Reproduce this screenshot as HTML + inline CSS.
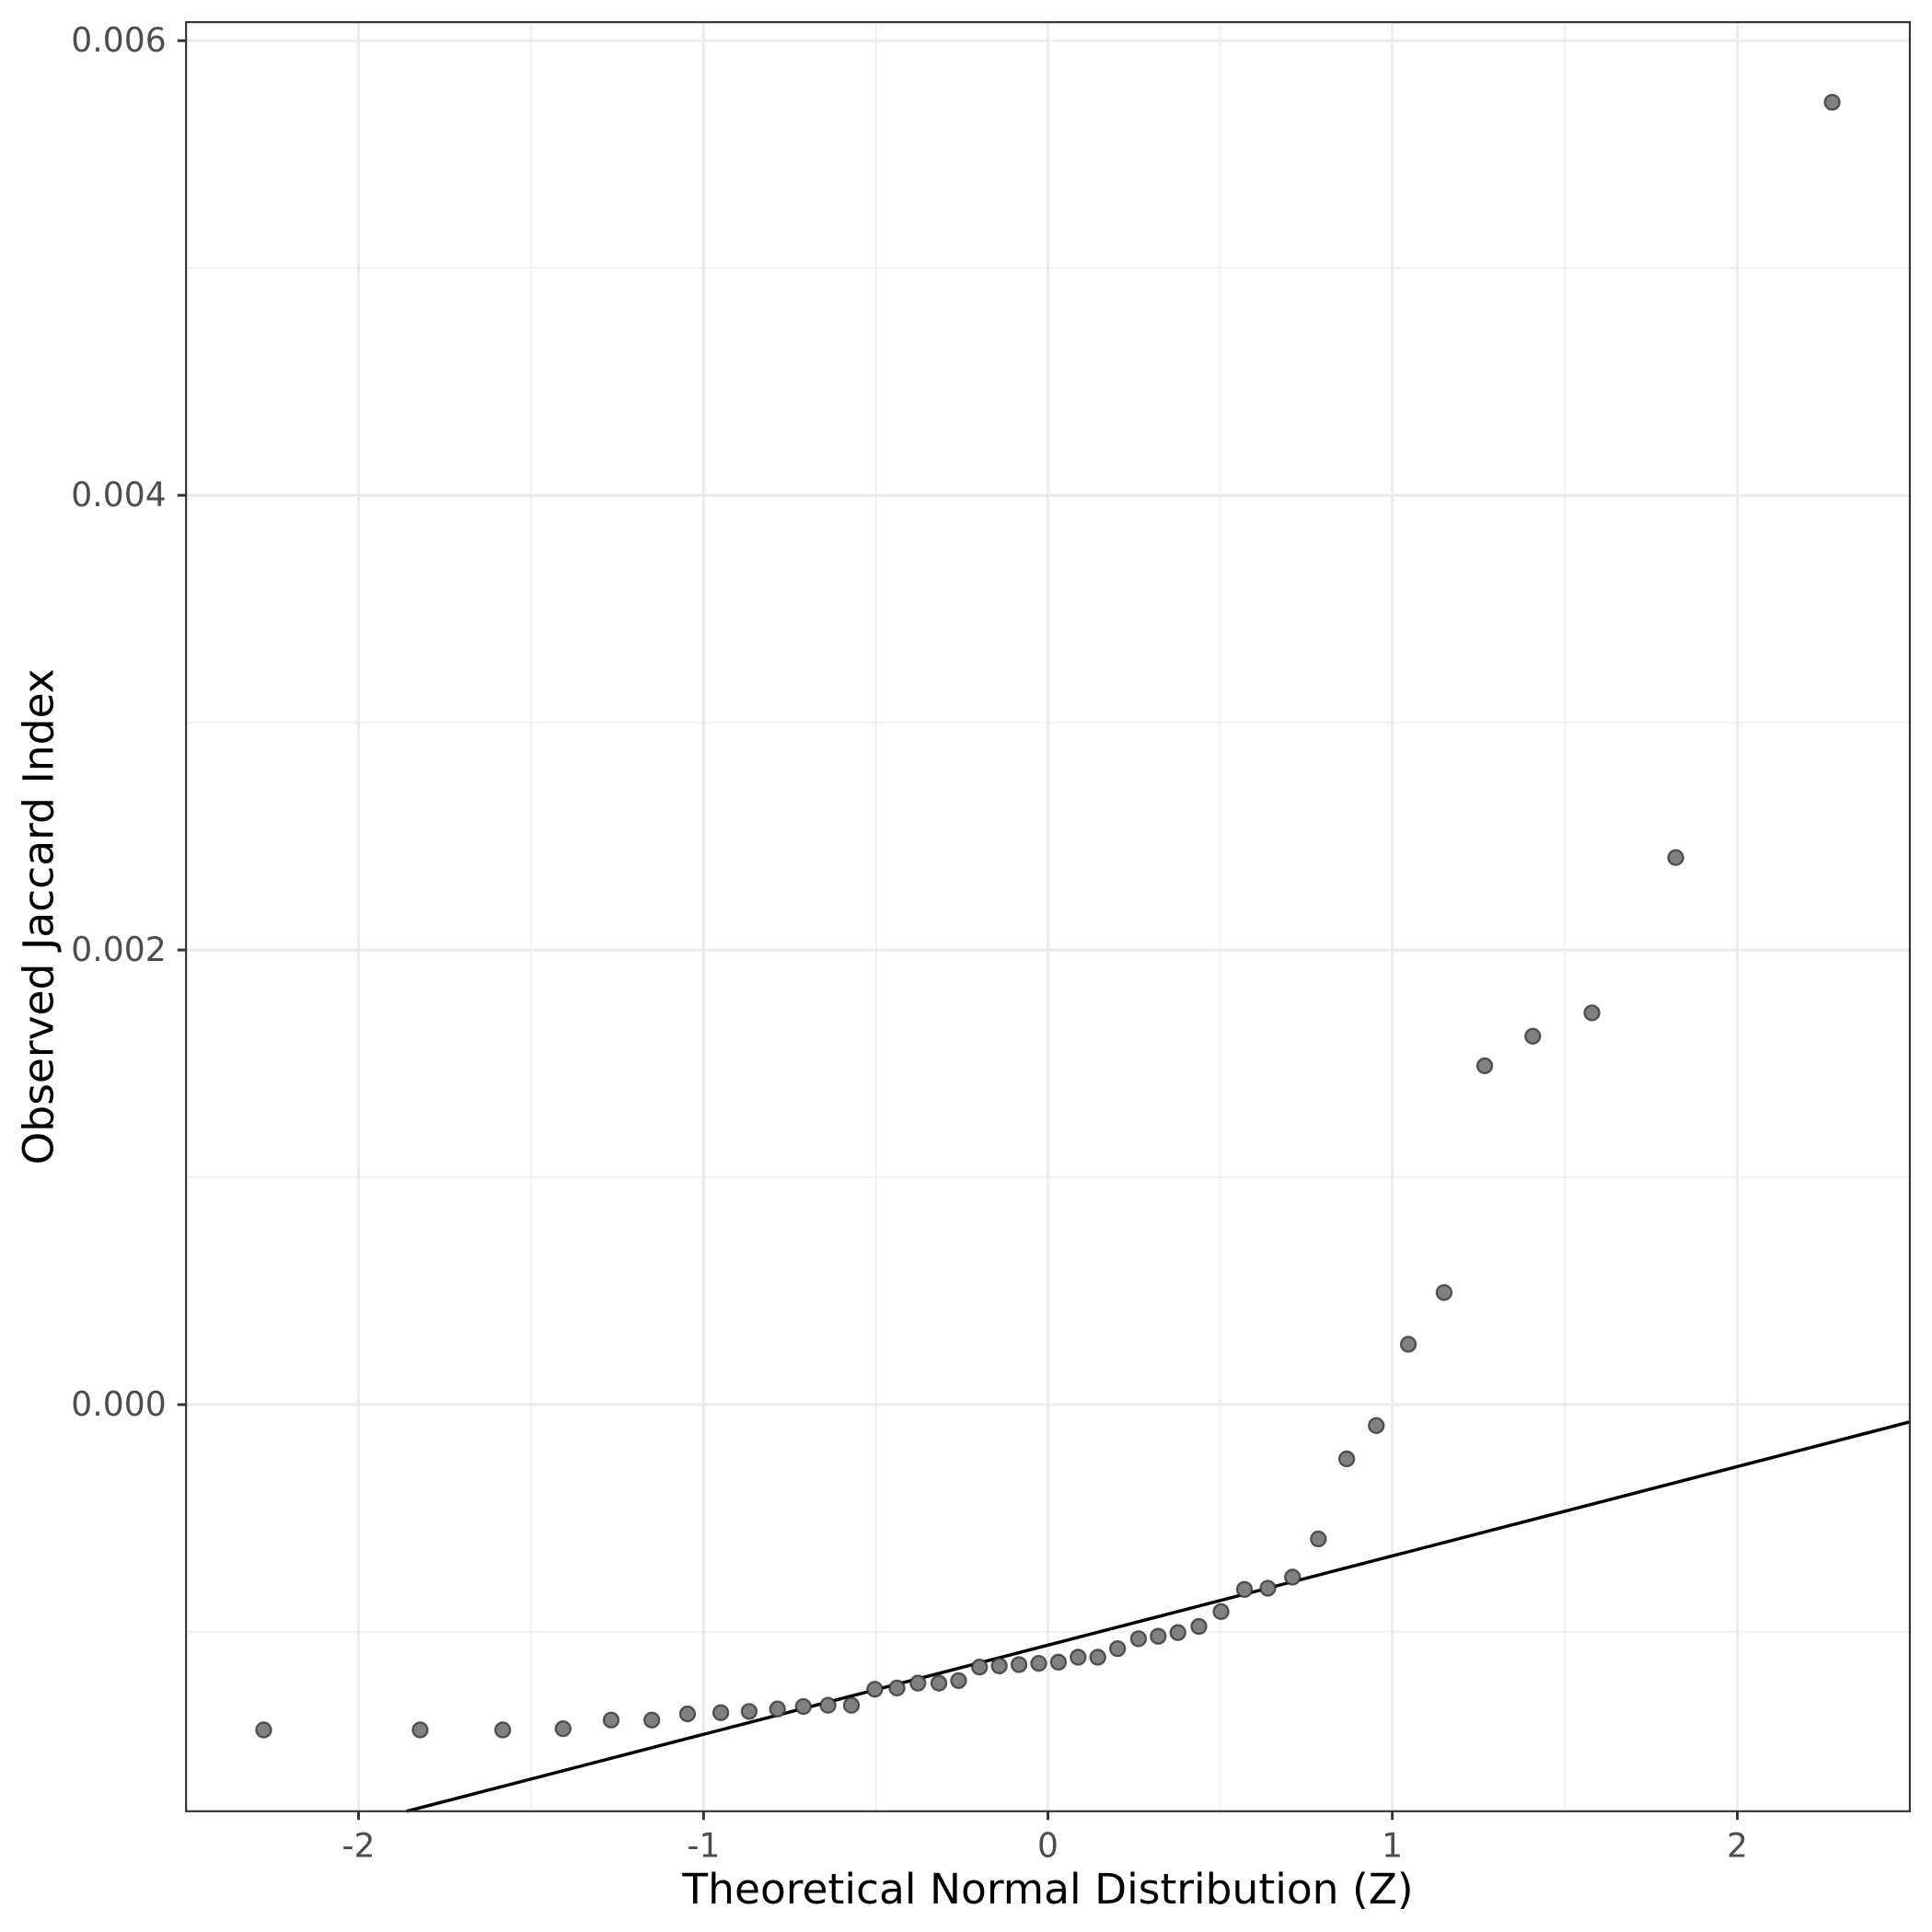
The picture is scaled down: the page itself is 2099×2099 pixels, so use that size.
<!DOCTYPE html>
<html><head><meta charset="utf-8"><style>html,body{margin:0;padding:0;background:#fff}svg{display:block}</style></head>
<body>
<svg width="2099" height="2099" viewBox="0 0 1568 1568" xmlns="http://www.w3.org/2000/svg" font-family="DejaVu Sans, Liberation Sans, sans-serif">
<rect width="1568" height="1568" fill="#fff"/>
<g stroke="#ebebeb" stroke-width="1">
<line x1="151" x2="1550" y1="217.5" y2="217.5"/><line x1="151" x2="1550" y1="586.5" y2="586.5"/><line x1="151" x2="1550" y1="955.5" y2="955.5"/><line x1="151" x2="1550" y1="1324.5" y2="1324.5"/>
<line y1="18" y2="1470" x1="431" x2="431"/><line y1="18" y2="1470" x1="711" x2="711"/><line y1="18" y2="1470" x1="990" x2="990"/><line y1="18" y2="1470" x1="1270" x2="1270"/>
</g>
<g stroke="#ebebeb" stroke-width="2.2">
<line x1="151" x2="1550" y1="33" y2="33"/><line x1="151" x2="1550" y1="402" y2="402"/><line x1="151" x2="1550" y1="771" y2="771"/><line x1="151" x2="1550" y1="1140" y2="1140"/>
<line y1="18" y2="1470" x1="291" x2="291"/><line y1="18" y2="1470" x1="571" x2="571"/><line y1="18" y2="1470" x1="850.5" x2="850.5"/><line y1="18" y2="1470" x1="1130" x2="1130"/><line y1="18" y2="1470" x1="1410" x2="1410"/>
</g>
<line x1="330" y1="1470" x2="1550" y2="1154" stroke="#000" stroke-width="2.6"/>
<g fill="#808080" stroke="#333" stroke-opacity="0.8" stroke-width="1.7">
<circle cx="214" cy="1404" r="6"/><circle cx="341" cy="1404" r="6"/><circle cx="408" cy="1404" r="6"/><circle cx="457" cy="1403" r="6"/><circle cx="496" cy="1396" r="6"/><circle cx="529" cy="1396" r="6"/><circle cx="558" cy="1391" r="6"/><circle cx="585" cy="1390" r="6"/><circle cx="608" cy="1389" r="6"/><circle cx="631" cy="1387" r="6"/><circle cx="652" cy="1385" r="6"/><circle cx="672" cy="1384" r="6"/><circle cx="691" cy="1384" r="6"/><circle cx="710" cy="1371" r="6"/><circle cx="728" cy="1370" r="6"/><circle cx="745" cy="1366" r="6"/><circle cx="762" cy="1366" r="6"/><circle cx="778" cy="1364" r="6"/><circle cx="795" cy="1353" r="6"/><circle cx="811" cy="1352" r="6"/><circle cx="827" cy="1351" r="6"/><circle cx="843" cy="1350" r="6"/><circle cx="859" cy="1349" r="6"/><circle cx="875" cy="1345" r="6"/><circle cx="891" cy="1345" r="6"/><circle cx="907" cy="1338" r="6"/><circle cx="924" cy="1330" r="6"/><circle cx="940" cy="1328" r="6"/><circle cx="956" cy="1325" r="6"/><circle cx="973" cy="1320" r="6"/><circle cx="991" cy="1308" r="6"/><circle cx="1010" cy="1290" r="6"/><circle cx="1029" cy="1289" r="6"/><circle cx="1049" cy="1280" r="6"/><circle cx="1070" cy="1249" r="6"/><circle cx="1093" cy="1184" r="6"/><circle cx="1117" cy="1157" r="6"/><circle cx="1143" cy="1091" r="6"/><circle cx="1172" cy="1049" r="6"/><circle cx="1205" cy="865" r="6"/><circle cx="1244" cy="841" r="6"/><circle cx="1292" cy="822" r="6"/><circle cx="1360" cy="696" r="6"/><circle cx="1487" cy="83" r="6"/>
</g>
<rect x="151" y="18" width="1399" height="1452" fill="none" stroke="#333" stroke-width="1.6"/>
<g stroke="#333" stroke-width="2.2">
<line x1="144" x2="151" y1="33" y2="33"/><line x1="144" x2="151" y1="402" y2="402"/><line x1="144" x2="151" y1="771" y2="771"/><line x1="144" x2="151" y1="1140" y2="1140"/>
<line y1="1470" y2="1477" x1="291" x2="291"/><line y1="1470" y2="1477" x1="571" x2="571"/><line y1="1470" y2="1477" x1="850.5" x2="850.5"/><line y1="1470" y2="1477" x1="1130" x2="1130"/><line y1="1470" y2="1477" x1="1410" x2="1410"/>
</g>
<g fill="#4d4d4d" font-size="27" text-anchor="end">
<text x="135" y="42">0.006</text><text x="135" y="411">0.004</text><text x="135" y="780">0.002</text><text x="135" y="1149">0.000</text>
</g>
<g fill="#4d4d4d" font-size="27" text-anchor="middle">
<text x="291" y="1507">-2</text><text x="571" y="1507">-1</text><text x="850.5" y="1507">0</text><text x="1130" y="1507">1</text><text x="1410" y="1507">2</text>
</g>
<text x="850.5" y="1545" font-size="34" text-anchor="middle" fill="#000">Theoretical Normal Distribution (Z)</text>
<text transform="translate(43,744) rotate(-90)" font-size="34" text-anchor="middle" fill="#000">Observed Jaccard Index</text>
</svg>
</body></html>
